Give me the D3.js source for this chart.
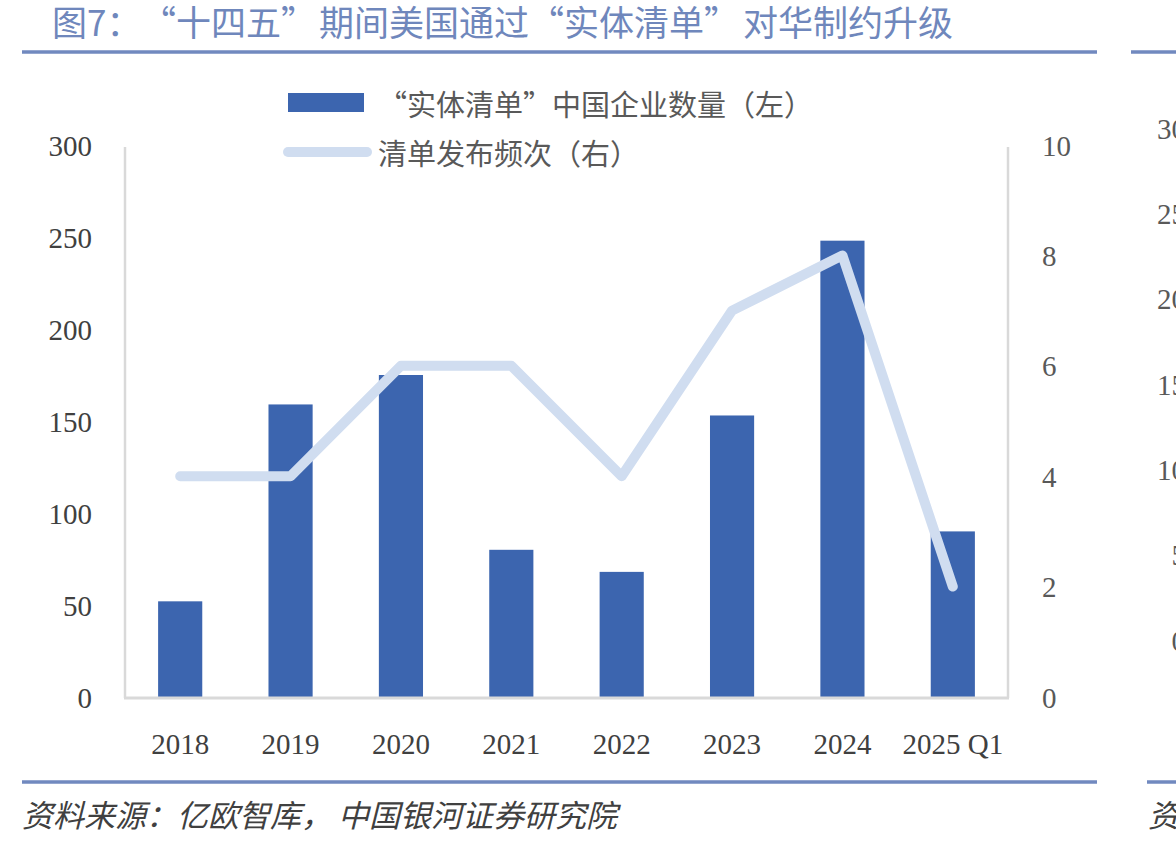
<!DOCTYPE html>
<html>
<head>
<meta charset="utf-8">
<script src="https://cdn.jsdelivr.net/npm/d3@7"></script>
<style>
  html, body { margin: 0; padding: 0; background: #fff; }
  svg { display: block; }
</style>
</head>
<body>
<div id="chart"></div>
<script>
// data
var categories = ['2018', '2019', '2020', '2021', '2022', '2023', '2024', '2025 Q1'];
var companies = [52, 159, 175, 80, 68, 153, 248, 90];      // bars, left axis
var releases = [4, 4, 6, 6, 4, 7, 8, 2];                   // line, right axis
var leftTicks = [0, 50, 100, 150, 200, 250, 300];
var rightTicks = [0, 2, 4, 6, 8, 10];
var nextTicks = [0, 5, 10, 15, 20, 25, 30];               // cut-off chart on the right edge

var W = 1176, H = 846;
var cjk = '"Noto Sans CJK SC", "Noto Sans", sans-serif';
var num = '"Liberation Serif", "DejaVu Serif", serif';

var svg = d3.select('#chart').append('svg')
  .attr('width', W)
  .attr('height', H);

// title, with the gap after the colon the original has
var titleParts = [
  ['图7：', 0], ['“十四五”', 17], ['期间美国通过', 3],
  ['“实体清单”', 0], ['对华制约升级', 4]
];
svg.append('text')
  .attr('x', 52)
  .attr('y', 20)
  .attr('dominant-baseline', 'central')
  .style('font-family', cjk)
  .style('font-size', '35px')
  .attr('fill', '#6f87bc')
  .selectAll('tspan')
  .data(titleParts)
  .enter()
  .append('tspan')
    .attr('dx', function(d) { return d[1]; })
    .text(function(d) { return d[0]; });

var rules = [
  [22, 1097, 52], [1131, 1176, 52],
  [22, 1097, 782], [1147, 1176, 782]
];
svg.selectAll('line.rule')
  .data(rules)
  .enter()
  .append('line')
    .attr('class', 'rule')
    .attr('x1', function(d) { return d[0]; })
    .attr('x2', function(d) { return d[1]; })
    .attr('y1', function(d) { return d[2]; })
    .attr('y2', function(d) { return d[2]; })
    .attr('stroke', '#7189bf')
    .attr('stroke-width', 3.5);

// scales
var x = d3.scaleBand()
  .domain(categories)
  .range([125, 1008])
  .paddingInner(0.6)
  .paddingOuter(0.3);

var yL = d3.scaleLinear().domain([0, 300]).range([697, 145]);
var yR = d3.scaleLinear().domain([0, 10]).range([697, 145]);

// bars
svg.selectAll('rect.bar')
  .data(companies)
  .enter()
  .append('rect')
    .attr('class', 'bar')
    .attr('x', function(d, i) { return x(categories[i]); })
    .attr('width', x.bandwidth())
    .attr('y', function(d) { return yL(d); })
    .attr('height', function(d) { return yL(0) - yL(d); })
    .attr('fill', '#3c65af');

// axes frame lines
svg.append('line')
  .attr('x1', 125).attr('x2', 125).attr('y1', 147).attr('y2', 698)
  .attr('stroke', '#d9d9d9').attr('stroke-width', 2.5);
svg.append('line')
  .attr('x1', 1008).attr('x2', 1008).attr('y1', 147).attr('y2', 698)
  .attr('stroke', '#d9d9d9').attr('stroke-width', 2.5);
svg.append('line')
  .attr('x1', 124).attr('x2', 1009).attr('y1', 698).attr('y2', 698)
  .attr('stroke', '#d9d9d9').attr('stroke-width', 3);

// line series
var line = d3.line()
  .x(function(d, i) { return x(categories[i]) + x.bandwidth() / 2; })
  .y(function(d) { return yR(d); });

svg.append('path')
  .datum(releases)
  .attr('d', line)
  .attr('fill', 'none')
  .attr('stroke', '#d0ddf0')
  .attr('stroke-width', 10)
  .attr('stroke-linejoin', 'round')
  .attr('stroke-linecap', 'round');

// tick labels via axes
function styleAxis(g, color) {
  g.select('.domain').remove();
  g.selectAll('.tick line').remove();
  g.selectAll('text')
    .style('font-family', num)
    .style('font-size', '29px')
    .attr('fill', color)
    .attr('dy', null)
    .attr('dominant-baseline', 'central');
}

svg.append('g')
  .attr('transform', 'translate(125,0)')
  .call(d3.axisLeft(yL).tickValues(leftTicks).tickSize(0).tickPadding(33))
  .call(styleAxis, '#404040');

svg.append('g')
  .attr('transform', 'translate(1008,0)')
  .call(d3.axisRight(yR).tickValues(rightTicks).tickSize(0).tickPadding(34))
  .call(styleAxis, '#595959');

svg.append('g')
  .attr('transform', 'translate(0,698)')
  .call(d3.axisBottom(x).tickSize(0).tickPadding(46))
  .call(styleAxis, '#404040');

// partial next chart on the right edge (cut off by the page like in the original)
var yNext = d3.scaleLinear().domain([0, 30]).range([640, 128]);
svg.append('g')
  .attr('transform', 'translate(1186,0)')
  .call(d3.axisLeft(yNext).tickValues(nextTicks).tickSize(0).tickPadding(0))
  .call(styleAxis, '#595959');

// legend
var legend = svg.append('g');
legend.append('rect')
  .attr('x', 288).attr('y', 93).attr('width', 76).attr('height', 19)
  .attr('fill', '#3c65af');
legend.append('line')
  .attr('x1', 288).attr('x2', 367).attr('y1', 152).attr('y2', 152)
  .attr('stroke', '#d0ddf0').attr('stroke-width', 10).attr('stroke-linecap', 'round');
legend.selectAll('text')
  .data([['“实体清单”中国企业数量（左）', 103], ['清单发布频次（右）', 152]])
  .enter()
  .append('text')
    .attr('x', 378)
    .attr('y', function(d) { return d[1]; })
    .attr('dominant-baseline', 'central')
    .style('font-family', cjk)
    .style('font-size', '29px')
    .attr('fill', '#595959')
    .text(function(d) { return d[0]; });

// source
var sourceParts = [['资料来源：亿欧智库，', 0], ['中国银河证券研究院', 6]];
svg.append('text')
  .attr('x', 22).attr('y', 813)
  .attr('dominant-baseline', 'central')
  .style('font-family', cjk)
  .style('font-size', '31px')
  .style('font-style', 'italic')
  .attr('fill', '#404040')
  .selectAll('tspan')
  .data(sourceParts)
  .enter()
  .append('tspan')
    .attr('dx', function(d) { return d[1]; })
    .text(function(d) { return d[0]; });
svg.append('text')
  .attr('x', 1148).attr('y', 813)
  .attr('dominant-baseline', 'central')
  .style('font-family', cjk)
  .style('font-size', '31px')
  .style('font-style', 'italic')
  .attr('fill', '#404040')
  .text('资');
</script>
</body>
</html>
